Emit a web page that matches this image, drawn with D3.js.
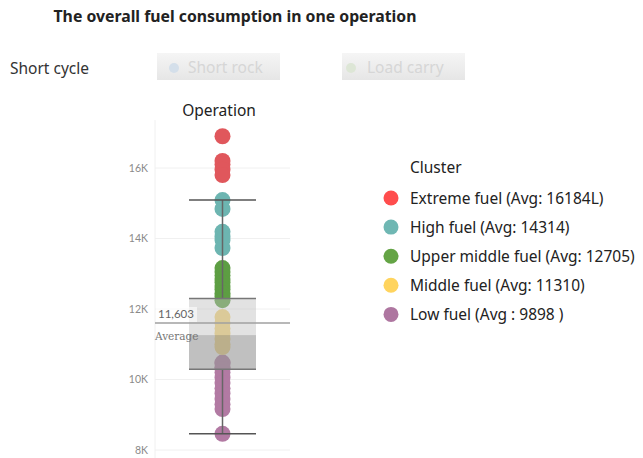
<!DOCTYPE html>
<html>
<head>
<meta charset="utf-8">
<script src="https://cdn.jsdelivr.net/npm/d3@7"></script>
<style>
  body { margin: 0; background: #fff; }
  svg { display: block; font-family: "Noto Sans", "Open Sans", sans-serif; }
</style>
</head>
<body>
<div class="panel"></div>
<script>

// Data ////////////////////////////////////////

const clusters = [
    "Extreme fuel (Avg: 16184L)",
    "High fuel (Avg: 14314)",
    "Upper middle fuel (Avg: 12705)",
    "Middle fuel (Avg: 11310)",
    "Low fuel (Avg : 9898 )"
];

const extremeFuel = [16900, 16200, 16100, 15950, 15800];
const highFuel = [15090, 14840, 14190, 14050, 13960, 13730];
const upperMiddleFuel = [13160, 13050, 12950, 12850, 12750, 12650, 12550, 12450, 12350, 12250];
const middleFuel = [11770, 11600, 11450, 11300, 11150, 11000, 10920];
const lowFuel = [10480, 10450, 10350, 10300, 10200, 10050, 9900, 9750, 9600, 9450, 9300, 9160, 8460];

const boxStats = { lowWhisker: 8460, q1: 10290, median: 11260, q3: 12300, highWhisker: 15090 };
const average = 11603;

const yTicks = [8000, 10000, 12000, 14000, 16000];
const category = "Operation";

const buttons = ["Short rock", "Load carry"];

// Chart ///////////////////////////////////////

const width = 643, height = 458;
const pointColors = ["#e0575c", "#6db5b1", "#5d9e43", "#f2d47a", "#b27aa3"];
const legendColors = ["#ff4d4d", "#6fb7b3", "#64a445", "#ffd45e", "#ae76a0"];
const fontSize = 15.5;

const svg = d3.select(".panel").append("svg")
    .attr("width", width)
    .attr("height", height);

svg.append("text")
    .attr("x", 235).attr("y", 22)
    .attr("text-anchor", "middle")
    .attr("font-size", 15.8).attr("font-weight", "bold")
    .attr("fill", "#222")
    .text("The overall fuel consumption in one operation");

svg.append("text")
    .attr("x", 10).attr("y", 74)
    .attr("font-size", fontSize).attr("fill", "#333")
    .text("Short cycle");

// Buttons

const grad = svg.append("defs").append("linearGradient")
    .attr("id", "btn").attr("x1", 0).attr("y1", 0).attr("x2", 0).attr("y2", 1);
grad.append("stop").attr("offset", "0%").attr("stop-color", "#f5f5f5");
grad.append("stop").attr("offset", "100%").attr("stop-color", "#e6e6e6");

const btnX = [157, 342];
const btnDot = ["#d4dfea", "#dde6d6"];

const btn = svg.selectAll(".btn")
    .data(buttons)
    .join("g")
    .attr("class", "btn")
    .attr("transform", (d, i) => `translate(${ btnX[i] }, 53)`);

btn.append("rect")
    .attr("width", 123).attr("height", 27)
    .attr("fill", "url(#btn)");

btn.append("circle")
    .attr("cx", (d, i) => i ? 9 : 17).attr("cy", 15).attr("r", 5)
    .attr("fill", (d, i) => btnDot[i]);

btn.append("text")
    .attr("x", (d, i) => i ? 25 : 31).attr("y", 20)
    .attr("font-size", fontSize).attr("fill", "#d6d6d6")
    .text(d => d);

// Scales

const y = d3.scaleLinear().domain([8000, 16000]).range([450, 168]);
const x = d3.scalePoint().domain([category]).range([155, 290]).padding(0.5);
const cx = x(category);

svg.append("text")
    .attr("x", 219).attr("y", 116)
    .attr("text-anchor", "middle")
    .attr("font-size", fontSize).attr("fill", "#222")
    .text(category);

// Grid + axis

svg.append("g")
    .selectAll("line")
    .data(yTicks)
    .join("line")
    .attr("x1", 155).attr("x2", 290)
    .attr("y1", d => y(d)).attr("y2", d => y(d))
    .attr("stroke", "#f0f0f0");

svg.append("line")
    .attr("x1", 155).attr("x2", 155)
    .attr("y1", y(17360)).attr("y2", height)
    .attr("stroke", "#f0f0f0");

const axis = svg.append("g")
    .attr("transform", "translate(155,0)")
    .call(d3.axisLeft(y).tickValues(yTicks).tickSize(0).tickPadding(7)
        .tickFormat(d => d / 1000 + "K"));

axis.select(".domain").remove();
axis.selectAll("text")
    .attr("font-family", "Lato, 'Noto Sans', sans-serif")
    .attr("font-size", 10.5)
    .attr("fill", "#8a8a8a");

// Points (drawn low to high)

const groups = [extremeFuel, highFuel, upperMiddleFuel, middleFuel, lowFuel];

const points = svg.append("g");
for (let i = groups.length - 1; i >= 0; i--) {
    points.selectAll(".p" + i)
        .data(groups[i])
        .join("circle")
        .attr("class", "p" + i)
        .attr("cx", cx)
        .attr("cy", d => y(d))
        .attr("r", 8)
        .attr("fill", pointColors[i]);
}

// Box plot

const boxW = 67;
const box = svg.append("g");

box.append("rect")
    .attr("x", cx - boxW / 2).attr("width", boxW)
    .attr("y", y(boxStats.q3)).attr("height", y(boxStats.median) - y(boxStats.q3))
    .attr("fill", "#bebebe").attr("fill-opacity", 0.45);

box.append("rect")
    .attr("x", cx - boxW / 2).attr("width", boxW)
    .attr("y", y(boxStats.median)).attr("height", y(boxStats.q1) - y(boxStats.median))
    .attr("fill", "#969696").attr("fill-opacity", 0.6);

box.append("line")
    .attr("x1", cx).attr("x2", cx)
    .attr("y1", y(boxStats.highWhisker)).attr("y2", y(boxStats.q3))
    .attr("stroke", "#666").attr("stroke-width", 1.5);

box.append("line")
    .attr("x1", cx).attr("x2", cx)
    .attr("y1", y(boxStats.q1)).attr("y2", y(boxStats.lowWhisker))
    .attr("stroke", "#666").attr("stroke-width", 1.5);

box.selectAll(".cap")
    .data([boxStats.highWhisker, boxStats.q3, boxStats.q1, boxStats.lowWhisker])
    .join("line")
    .attr("class", "cap")
    .attr("x1", cx - boxW / 2).attr("x2", cx + boxW / 2)
    .attr("y1", d => y(d)).attr("y2", d => y(d))
    .attr("stroke", (d, i) => i === 0 || i === 3 ? "#555" : "#777")
    .attr("stroke-width", 1.5);

// Average reference line

svg.append("line")
    .attr("x1", 155).attr("x2", 290)
    .attr("y1", y(average)).attr("y2", y(average))
    .attr("stroke", "#a0a0a0").attr("stroke-width", 1.5);

svg.append("rect")
    .attr("x", 156).attr("y", y(average) - 16)
    .attr("width", 41).attr("height", 15)
    .attr("fill", "#fff").attr("fill-opacity", 0.6);

svg.append("text")
    .attr("x", 158).attr("y", y(average) - 5)
    .attr("font-family", "Lato, 'Noto Sans', sans-serif")
    .attr("font-size", 11.5).attr("fill", "#666")
    .text(d3.format(",")(average));

svg.append("text")
    .attr("x", 155).attr("y", y(average) + 17)
    .attr("font-family", "'DejaVu Serif', 'Liberation Serif', serif")
    .attr("font-size", 10.5).attr("fill", "#777")
    .text("Average");

// Legend

svg.append("text")
    .attr("x", 410).attr("y", 173)
    .attr("font-size", fontSize).attr("fill", "#222")
    .text("Cluster");

const legend = svg.selectAll(".legend")
    .data(clusters)
    .join("g")
    .attr("class", "legend")
    .attr("transform", (d, i) => `translate(391, ${ 198 + i * 29.1 })`);

legend.append("circle")
    .attr("r", 7.5)
    .attr("fill", (d, i) => legendColors[i]);

legend.append("text")
    .attr("x", 19).attr("y", 5.5)
    .attr("font-size", fontSize).attr("fill", "#222")
    .text(d => d);

</script>
</body>
</html>
